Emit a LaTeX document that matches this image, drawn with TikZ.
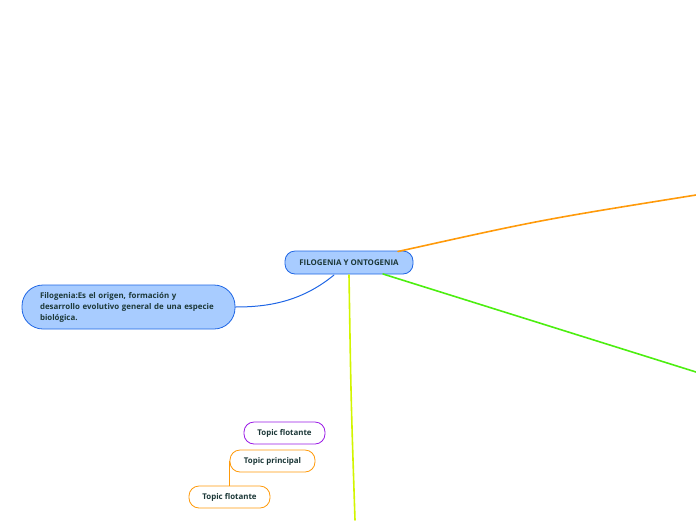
\documentclass[tikz,border=0pt]{standalone}
\usepackage{fontspec}
\setmainfont{Open Sans}
\definecolor{topicfill}{HTML}{A8CCFF}
\definecolor{topicline}{HTML}{1F66E5}
\definecolor{topictext}{HTML}{1C3838}
\definecolor{ramaorange}{HTML}{FF9A0A}
\definecolor{ramaverde}{HTML}{4CEE10}
\definecolor{ramalima}{HTML}{D2F500}
\definecolor{flotmorado}{HTML}{9A1AE6}
\tikzset{
  tema/.style={draw=topicline,fill=topicfill,line width=0.8pt,rounded corners=10pt,
    text=topictext,font=\bfseries\fontsize{7.9}{9}\selectfont,inner sep=0pt},
  flotante/.style={draw=#1,fill=white,line width=0.8pt,rounded corners=10pt,
    minimum width=81pt,minimum height=22pt,inner sep=0pt,
    text=topictext,font=\bfseries\fontsize{7.9}{9}\selectfont},
}
\begin{document}
\begin{tikzpicture}[x=1pt,y=-1pt,line cap=round]
    \useasboundingbox (0,0) rectangle (696,520);
    % 中心主题
    \node[tema,minimum width=128pt,minimum height=23pt] (centro) at (349,262.5) {FILOGENIA Y ONTOGENIA};
    \node[tema,rounded corners=21pt,minimum width=213pt,minimum height=44pt,
          text width=195pt,align=left,font=\bfseries\fontsize{7.9}{11}\selectfont]
          (filo) at (128.5,307) {\hspace*{9pt}Filogenia:Es el origen, formación y\\\hspace*{9pt}desarrollo evolutivo general de una especie\\\hspace*{9pt}biológica.};

    % 分支的端点
    \coordinate (finorange) at (696,195);
    \coordinate (finverde) at (696,372);
    \coordinate (finlima) at (355,520);

    % 分支
    \draw[ramaorange,line width=1.6pt] (398,251.5) .. controls (540,220) .. (finorange);
    \draw[ramaverde,line width=1.6pt] (383,274) -- (finverde);
    \draw[ramalima,line width=1.6pt] (349,275) .. controls (351,400) .. (finlima);
    \draw[topicline,line width=1pt] (334,275) .. controls (300,303) and (265,307) .. (filo.east);

    % 浮动主题
    \node[flotante=flotmorado] (flot1) at (284.5,433) {Topic flotante};
    \node[flotante=ramaorange,minimum width=85pt] (principal) at (272.5,461) {Topic principal};
    \node[flotante=ramaorange] (flot2) at (229.5,497) {Topic flotante};
    \draw[ramaorange,line width=0.8pt] (principal.west) -- (principal.west |- flot2.north);
\end{tikzpicture}
\end{document}
